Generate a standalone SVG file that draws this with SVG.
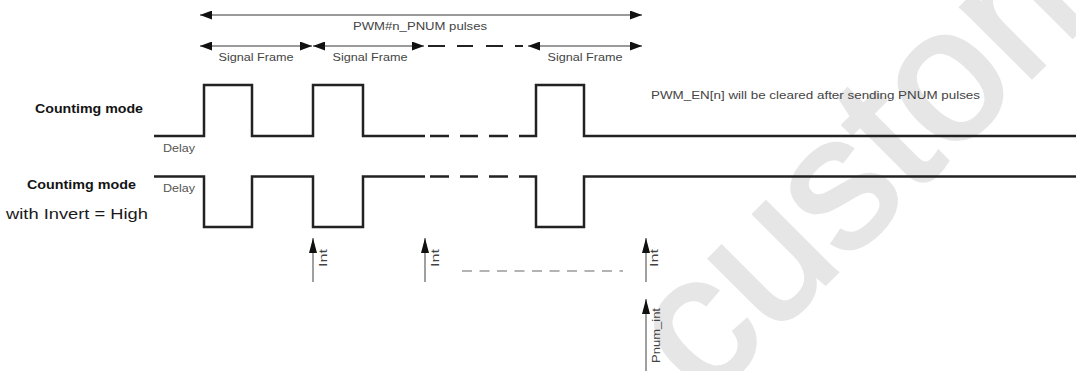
<svg xmlns="http://www.w3.org/2000/svg" width="1076" height="371" viewBox="0 0 1076 371">
  <style>
    text { font-family: "Liberation Sans", Arial, sans-serif; fill: #333; }
    .lbl { font-size: 12.5px; font-weight: bold; fill: #141414; }
    .sm { font-size: 11px; fill: #444; }
    .wave { fill: none; stroke: #222; stroke-width: 2.5; stroke-linejoin: miter; }
    .dim { stroke: #9a9a9a; stroke-width: 2; fill: none; }
    .dash { stroke: #222; stroke-width: 2.2; fill: none; }
    .intl { stroke: #888; stroke-width: 1.6; fill: none; }
    .wm { font-size: 188px; fill: #e6e6e6; stroke: #e6e6e6; stroke-width: 4; }
  </style>
  <defs>
    <marker id="ah" viewBox="0 0 12 9" refX="12" refY="4.5" markerWidth="12" markerHeight="9" markerUnits="userSpaceOnUse" orient="auto-start-reverse">
      <path d="M0,0 L12,4.5 L0,9 z" fill="#111"/>
    </marker>
    <marker id="av" viewBox="0 0 15 8" refX="15" refY="4" markerWidth="15" markerHeight="8" markerUnits="userSpaceOnUse" orient="auto">
      <path d="M0,0 L15,4 L0,8 z" fill="#111"/>
    </marker>
  </defs>
  <rect width="1076" height="371" fill="#fff"/>

  <g id="watermark">
    <text class="wm" transform="translate(705,404) rotate(-45)">custom</text>
  </g>

  <g id="connectors">
    <line class="dim" x1="200" y1="15" x2="642" y2="15" marker-start="url(#ah)" marker-end="url(#ah)"/>
    <line class="dim" x1="200" y1="46" x2="312" y2="46" marker-start="url(#ah)" marker-end="url(#ah)"/>
    <line class="dim" x1="313" y1="46" x2="424" y2="46" marker-start="url(#ah)" marker-end="url(#ah)"/>
    <path class="dash" d="M428,46 H445 M457,46 H473 M486,46 H503 M515,46 H523"/>
    <line class="dim" x1="528" y1="46" x2="642" y2="46" marker-start="url(#ah)" marker-end="url(#ah)"/>

    <line class="intl" x1="313" y1="282" x2="313" y2="238" marker-end="url(#av)"/>
    <line class="intl" x1="425" y1="282" x2="425" y2="238" marker-end="url(#av)"/>
    <line class="intl" x1="646" y1="282" x2="646" y2="238" marker-end="url(#av)"/>
    <line class="intl" x1="646" y1="371" x2="646" y2="299" marker-end="url(#av)"/>
    <line x1="462" y1="271" x2="623" y2="271" stroke="#9a9a9a" stroke-width="1.6" stroke-dasharray="10 7.5"/>
  </g>

  <g id="wave-counting">
    <path class="wave" d="M154,136 H204 V85 H252 V136 H313 V85 H363 V136 H425 M430,136 H449 M460,136 H478 M489,136 H508 M519,136 H536 V85 H584 V136 H1076"/>
  </g>
  <g id="wave-invert">
    <path class="wave" d="M154,176.5 H204 V227 H252 V176.5 H313 V227 H363 V176.5 H425 M430,176.5 H449 M460,176.5 H478 M489,176.5 H508 M519,176.5 H536 V227 H584 V176.5 H1076"/>
  </g>

  <g id="labels">
    <text x="420" y="30" class="sm" text-anchor="middle" textLength="134" lengthAdjust="spacingAndGlyphs">PWM#n_PNUM pulses</text>
    <text x="256" y="61" class="sm" text-anchor="middle" textLength="75" lengthAdjust="spacingAndGlyphs">Signal Frame</text>
    <text x="370" y="61" class="sm" text-anchor="middle" textLength="75" lengthAdjust="spacingAndGlyphs">Signal Frame</text>
    <text x="585" y="61" class="sm" text-anchor="middle" textLength="75" lengthAdjust="spacingAndGlyphs">Signal Frame</text>
    <text x="651" y="99" class="sm" textLength="329" lengthAdjust="spacingAndGlyphs">PWM_EN[n] will be cleared after sending PNUM pulses</text>

    <text x="35" y="113" class="lbl" textLength="108" lengthAdjust="spacingAndGlyphs">Countimg mode</text>
    <text x="27" y="189" class="lbl" textLength="109" lengthAdjust="spacingAndGlyphs">Countimg mode</text>
    <text x="6" y="219" style="font-size:15px; fill:#1a1a1a" textLength="142" lengthAdjust="spacingAndGlyphs">with Invert = High</text>
    <text x="163" y="152" class="sm" style="fill:#555" textLength="32" lengthAdjust="spacingAndGlyphs">Delay</text>
    <text x="163" y="192" class="sm" style="fill:#555" textLength="32" lengthAdjust="spacingAndGlyphs">Delay</text>

    <text class="sm" transform="translate(327,267) rotate(-90)" textLength="18" lengthAdjust="spacingAndGlyphs">Int</text>
    <text class="sm" transform="translate(439,267) rotate(-90)" textLength="18" lengthAdjust="spacingAndGlyphs">Int</text>
    <text class="sm" transform="translate(658,267) rotate(-90)" textLength="18" lengthAdjust="spacingAndGlyphs">Int</text>
    <text class="sm" transform="translate(660,363) rotate(-90)" textLength="55" lengthAdjust="spacingAndGlyphs">Pnum_int</text>
  </g>
</svg>
